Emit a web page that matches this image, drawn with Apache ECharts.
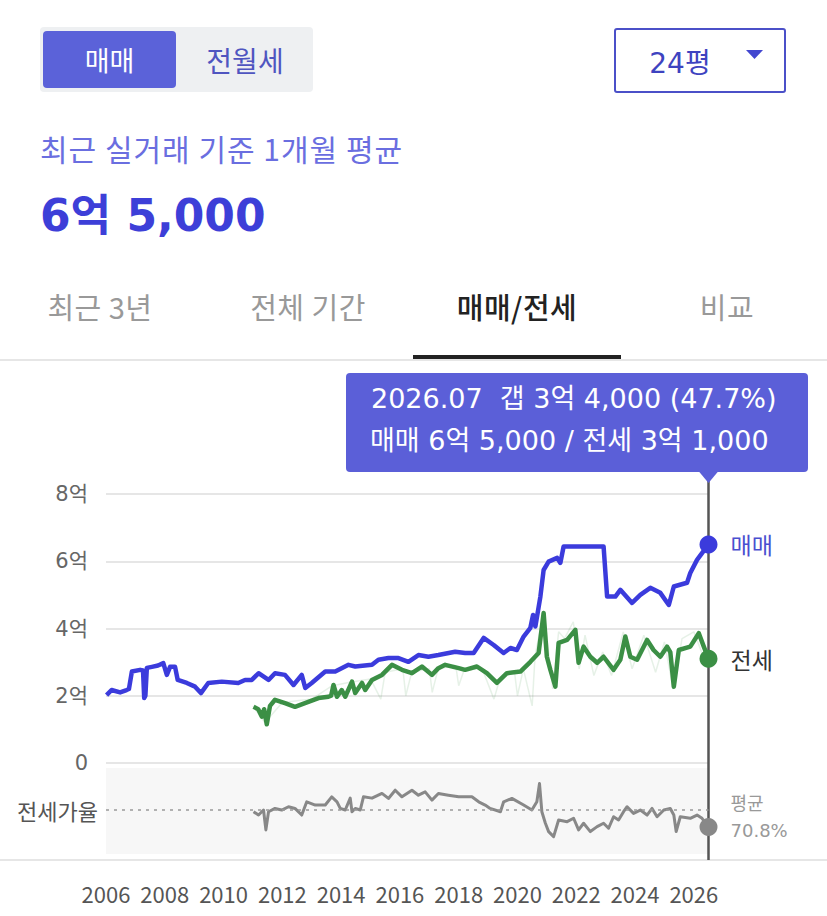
<!DOCTYPE html>
<html><head><meta charset="utf-8">
<script src="https://cdn.jsdelivr.net/npm/echarts@6/dist/echarts.min.js"></script>
<style>
body{margin:0;width:827px;height:916px;overflow:hidden;background:#fff;font-family:"Noto Sans CJK KR","Noto Sans",sans-serif;}
#chart{position:absolute;left:0;top:0;width:827px;height:916px;}
.abs{position:absolute;white-space:nowrap;display:flex;align-items:center;justify-content:center;}
.dv{font-family:"DejaVu Sans","Noto Sans CJK KR",sans-serif;}
</style></head>
<body>
<div id="chart"></div>
<div class="abs" style="left:40px;top:27px;width:273px;height:65px;background:#eef0f2;border-radius:4px"></div>
<div class="abs" style="left:43px;top:31px;width:133px;height:57px;background:#5b62d9;border-radius:4px;color:#fff;font-size:27px">매매</div>
<div class="abs" style="left:180px;top:31px;width:130px;height:57px;color:#4f55c0;font-size:28px">전월세</div>
<div class="abs" style="left:614px;top:28px;width:168px;height:61px;border:2px solid #4b50c8;border-radius:3px"></div>
<div class="abs dv" style="left:628px;top:30px;width:104px;height:61px;color:#3e43c0;font-size:28px">24평</div>
<svg style="position:absolute;left:746px;top:50px" width="18" height="10"><polygon points="0,0 17,0 8.5,9" fill="#4347d0"/></svg>
<div class="abs" style="left:40px;top:127px;height:42px;justify-content:flex-start;color:#6a6ee0;font-size:30px;letter-spacing:1px">최근 실거래 기준 1개월 평균</div>
<div class="abs dv" style="left:40px;top:186px;height:52px;justify-content:flex-start;color:#3d3fd8;font-size:44px;font-weight:bold">6억 5,000</div>
<div class="abs" style="left:0px;top:285px;width:200px;height:42px;color:#999;font-size:29px;letter-spacing:0.5px">최근 3년</div>
<div class="abs" style="left:208px;top:285px;width:200px;height:42px;color:#999;font-size:29px;letter-spacing:0.5px">전체 기간</div>
<div class="abs" style="left:417px;top:285px;width:200px;height:42px;color:#222;font-size:29px;font-weight:500;letter-spacing:0.5px">매매/전세</div>
<div class="abs" style="left:627px;top:285px;width:200px;height:42px;color:#999;font-size:29px;letter-spacing:0.5px">비교</div>
<div style="position:absolute;left:0;top:359px;width:827px;height:2px;background:#e6e6e6"></div>
<div style="position:absolute;left:413px;top:355px;width:208px;height:4px;background:#222"></div>
<script>
// ---- data (year, 억원) ----
const saleSeries = [
[2006.02,2.02],[2006.19,2.17],[2006.48,2.10],[2006.70,2.17],[2006.78,2.20],[2006.88,2.72],[2007.16,2.77],
[2007.26,2.75],[2007.30,1.93],[2007.34,2.00],[2007.39,2.83],[2007.56,2.86],[2007.77,2.90],[2007.95,2.97],
[2008.07,2.62],[2008.18,2.86],[2008.35,2.86],[2008.44,2.47],[2008.75,2.38],[2009.03,2.27],[2009.23,2.08],
[2009.48,2.38],[2009.94,2.42],[2010.50,2.38],[2010.73,2.47],[2010.96,2.47],[2011.19,2.67],[2011.53,2.47],
[2011.75,2.67],[2012.09,2.62],[2012.38,2.32],[2012.66,2.62],[2012.78,2.23],[2013.00,2.38],[2013.46,2.72],
[2013.80,2.72],[2014.25,2.92],[2014.48,2.87],[2015.05,2.92],[2015.27,3.07],[2015.61,3.12],[2015.95,3.12],
[2016.29,3.01],[2016.63,3.21],[2016.97,3.16],[2017.31,3.21],[2017.88,3.31],[2018.22,3.27],[2018.51,3.27],
[2018.85,3.72],[2019.19,3.51],[2019.53,3.27],[2019.76,3.42],[2019.98,3.36],[2020.21,3.76],[2020.44,4.02],
[2020.53,4.40],[2020.61,4.06],[2020.78,4.95],[2020.89,5.74],[2021.06,5.99],[2021.35,6.10],[2021.46,5.95],
[2021.57,6.44],[2022.93,6.44],[2023.05,4.95],[2023.33,4.95],[2023.50,5.15],[2023.90,4.76],[2024.18,5.00],
[2024.52,5.21],[2024.86,5.06],[2025.15,4.70],[2025.32,5.25],[2025.77,5.36],[2025.88,5.65],[2026.11,6.04],
[2026.45,6.44],[2026.5,6.5]
];
const jeonseSeries = [
[2011.02,1.67],[2011.18,1.60],[2011.30,1.38],[2011.38,1.60],[2011.47,1.15],[2011.58,1.70],[2011.75,1.88],
[2012.09,1.78],[2012.43,1.67],[2012.77,1.78],[2013.23,1.93],[2013.57,1.97],[2013.66,2.00],[2013.74,2.32],
[2013.86,1.97],[2014.02,2.17],[2014.14,1.97],[2014.37,2.42],[2014.48,2.08],[2014.71,2.38],[2014.82,2.17],
[2015.05,2.47],[2015.39,2.62],[2015.73,2.92],[2016.07,2.77],[2016.41,2.67],[2016.75,2.87],[2017.09,2.62],
[2017.31,2.82],[2017.54,2.92],[2018.00,2.82],[2018.22,2.77],[2018.62,2.87],[2018.96,2.67],[2019.30,2.38],
[2019.64,2.67],[2020.10,2.72],[2020.44,3.01],[2020.72,3.27],[2020.89,4.46],[2021.00,3.16],[2021.12,2.77],
[2021.29,2.27],[2021.40,3.57],[2021.69,3.66],[2021.97,3.96],[2022.08,2.98],[2022.25,3.46],[2022.48,3.16],
[2022.71,2.98],[2022.93,3.16],[2023.27,2.77],[2023.50,3.07],[2023.67,3.76],[2023.84,3.16],[2024.07,3.07],
[2024.41,3.66],[2024.63,3.36],[2024.86,3.16],[2025.09,3.46],[2025.20,3.30],[2025.32,2.27],[2025.49,3.36],
[2025.88,3.46],[2026.17,3.86],[2026.34,3.46],[2026.5,3.1]
];
const jeonseRaw = [
[2011.0,1.7],[2011.4,1.2],[2012.0,1.8],[2013.0,1.9],[2013.7,2.3],[2014.3,2.4],[2015.0,2.5],[2015.35,1.9],
[2015.5,2.7],[2016.1,2.8],[2016.2,2.0],[2016.4,2.7],[2017.0,2.8],[2017.1,2.1],[2017.3,2.8],[2017.9,2.9],
[2018.0,2.3],[2018.2,2.8],[2018.8,2.8],[2019.2,1.9],[2019.4,2.5],[2019.9,2.7],[2020.0,2.0],[2020.2,2.8],
[2020.5,1.7],[2020.6,3.2],[2020.9,4.5],[2021.2,2.2],[2021.4,3.9],[2021.6,3.7],[2021.9,4.2],[2022.1,2.8],
[2022.3,3.8],[2022.6,2.6],[2022.9,3.3],[2023.2,2.6],[2023.6,3.9],[2023.9,2.8],[2024.3,3.8],[2024.7,2.7],
[2025.0,3.6],[2025.3,2.2],[2025.6,3.7],[2026.0,3.9],[2026.4,3.0]
];
const ratioSeries = [
[2011.02,68.5],[2011.19,64],[2011.36,70.8],[2011.44,43.8],[2011.53,68.5],[2011.75,73],[2011.98,70.8],
[2012.21,75.3],[2012.43,73],[2012.66,64],[2012.83,82],[2013.12,77.6],[2013.46,77.6],[2013.68,88.8],
[2013.86,82],[2013.97,73],[2014.14,70.8],[2014.31,87],[2014.37,68.5],[2014.48,73],[2014.65,70.8],
[2014.76,88.8],[2015.05,87],[2015.39,93.4],[2015.61,86.6],[2015.84,97.8],[2016.07,88.8],[2016.41,97.8],
[2016.63,91],[2016.86,95.5],[2017.09,84.3],[2017.31,93.4],[2017.65,91],[2018.00,88.8],[2018.45,88.8],
[2018.68,82],[2018.90,77.6],[2019.07,73],[2019.42,68.5],[2019.53,82],[2019.81,86.6],[2020.21,77.6],
[2020.49,70.8],[2020.66,82],[2020.75,106.9],[2020.83,68.5],[2020.95,52.8],[2021.06,41.5],[2021.23,34.7],
[2021.40,57.3],[2021.69,55],[2021.91,59.6],[2022.08,43.8],[2022.25,52.8],[2022.48,41.5],[2022.71,48.2],
[2022.93,52.8],[2023.10,46],[2023.27,61.7],[2023.44,57.3],[2023.61,68.5],[2023.73,75.3],[2023.95,66.3],
[2024.18,70.8],[2024.41,64],[2024.58,73],[2024.75,61.7],[2024.98,70.8],[2025.20,73],[2025.32,64],
[2025.40,41.5],[2025.54,61.7],[2025.88,59.6],[2026.11,64],[2026.28,59.6],[2026.5,47.7]
];
const ratioAvg = 70.8;
const yTicks = [0, 2, 4, 6, 8];
const tipDate = '2026.07';

const BLUE = '#3b3bdc', GREEN = '#3b8f45', GRAY = '#888888';
const F = '"Noto Sans CJK KR","Noto Sans",sans-serif';
const FD = '"DejaVu Sans","Noto Sans CJK KR",sans-serif';

function fmt(v){ const e = Math.floor(v + 1e-9); const m = Math.round((v - e) * 10000); return e + '억 ' + m.toLocaleString('en-US'); }
const lastSale = saleSeries[saleSeries.length - 1];
const lastJeonse = jeonseSeries[jeonseSeries.length - 1];
const lastRatio = ratioSeries[ratioSeries.length - 1];

const chart = echarts.init(document.getElementById('chart'), null, {renderer: 'svg'});
const xCommon = {type: 'value', min: 2006, max: lastSale[0], interval: 2, splitLine: {show: false}, axisTick: {show: false}, axisLine: {show: false}};
chart.setOption({
  animation: false,
  grid: [
    {left: 106, right: 827 - 708.5, top: 494, height: 269},
    {left: 106, right: 827 - 708.5, top: 768, height: 86, show: true, backgroundColor: '#f7f7f7', borderWidth: 0}
  ],
  xAxis: [
    Object.assign({gridIndex: 0, axisLabel: {show: false}}, xCommon),
    Object.assign({gridIndex: 1, axisLabel: {show: true, margin: 28, color: '#555', fontSize: 22, fontFamily: F,
      formatter: v => (Math.abs(v % 2) < 1e-6 ? String(v) : '')}}, xCommon)
  ],
  yAxis: [
    {gridIndex: 0, type: 'value', min: yTicks[0], max: yTicks[yTicks.length - 1], interval: 2,
      axisLine: {show: false}, axisTick: {show: false},
      splitLine: {lineStyle: {color: '#e6e6e6', width: 2}},
      axisLabel: {margin: 18, color: '#666', fontSize: 21, fontFamily: FD, formatter: v => v === 0 ? '0' : v + '억'}},
    {gridIndex: 1, type: 'value', min: 11, max: 128, axisLine: {show: false}, axisTick: {show: false},
      splitLine: {show: false}, axisLabel: {show: false}}
  ],
  series: [
    {type: 'line', xAxisIndex: 0, yAxisIndex: 0, data: jeonseRaw, showSymbol: false, silent: true,
      lineStyle: {color: 'rgba(59,143,69,0.13)', width: 1.5}},
    {type: 'line', xAxisIndex: 0, yAxisIndex: 0, data: saleSeries, showSymbol: false,
      lineStyle: {color: BLUE, width: 4.5, join: 'round'},
      endLabel: {show: true, formatter: '매매', color: '#4a4fd0', fontSize: 23, fontFamily: F, distance: 22}},
    {type: 'line', xAxisIndex: 0, yAxisIndex: 0, data: jeonseSeries, showSymbol: false,
      lineStyle: {color: GREEN, width: 4.5, join: 'round'},
      endLabel: {show: true, formatter: '전세', color: '#333', fontSize: 23, fontFamily: F, distance: 22}},
    {type: 'line', xAxisIndex: 1, yAxisIndex: 1, data: ratioSeries, showSymbol: false,
      lineStyle: {color: GRAY, width: 3, join: 'round'},
      endLabel: {show: true, formatter: '평균\n' + ratioAvg + '%', color: '#999', fontSize: 18, lineHeight: 27, fontFamily: FD, distance: 22, offset: [0, -10]},
      markLine: {silent: true, symbol: 'none', label: {show: false},
        lineStyle: {color: '#9a9a9a', type: [3, 5], width: 1.5}, data: [{yAxis: ratioAvg}]}},
    {type: 'scatter', xAxisIndex: 0, yAxisIndex: 0, data: [lastSale], symbolSize: 18, itemStyle: {color: BLUE, opacity: 1}, z: 5},
    {type: 'scatter', xAxisIndex: 0, yAxisIndex: 0, data: [lastJeonse], symbolSize: 18, itemStyle: {color: GREEN, opacity: 1}, z: 5},
    {type: 'scatter', xAxisIndex: 1, yAxisIndex: 1, data: [lastRatio], symbolSize: 18, itemStyle: {color: GRAY, opacity: 1}, z: 5}
  ]
});

const vx = chart.convertToPixel({xAxisIndex: 0}, lastSale[0]);
const avgY = chart.convertToPixel({yAxisIndex: 1}, ratioAvg);
const tipW = 462, tipH = 99, tipTop = 373, tipRight = 808;
const tipLeft = tipRight - tipW;
chart.setOption({
  graphic: [
    {type: 'line', shape: {x1: 0, y1: 860, x2: 827, y2: 860}, style: {stroke: '#e6e6e6', lineWidth: 2}, z: 1},
    {type: 'line', shape: {x1: vx, y1: tipTop + tipH + 8, x2: vx, y2: 860}, style: {stroke: '#555', lineWidth: 2.5}, z: 3},
    {type: 'rect', shape: {x: tipLeft, y: tipTop, width: tipW, height: tipH, r: 4}, style: {fill: '#5b5fd8'}, z: 10},
    {type: 'polygon', shape: {points: [[vx - 10, tipTop + tipH - 1], [vx + 10, tipTop + tipH - 1], [vx, tipTop + tipH + 11]]}, style: {fill: '#5b5fd8'}, z: 10},
    {type: 'text', x: tipLeft + 25, y: tipTop + 25, z: 11, style: {text: tipDate + '  갭 ' + fmt(lastSale[1] - lastJeonse[1]) + ' (' + lastRatio[1] + '%)', fill: '#fff', fontSize: 27, fontFamily: FD, verticalAlign: 'middle'}},
    {type: 'text', x: tipLeft + 24, y: tipTop + 67, z: 11, style: {text: '매매 ' + fmt(lastSale[1]) + ' / 전세 ' + fmt(lastJeonse[1]), fill: '#fff', fontSize: 27, fontFamily: FD, verticalAlign: 'middle'}},
    {type: 'text', x: 98, y: avgY, z: 11, style: {text: '전세가율', fill: '#555', fontSize: 22, fontFamily: F, align: 'right', verticalAlign: 'middle'}}
  ]
});
</script>
</body></html>
